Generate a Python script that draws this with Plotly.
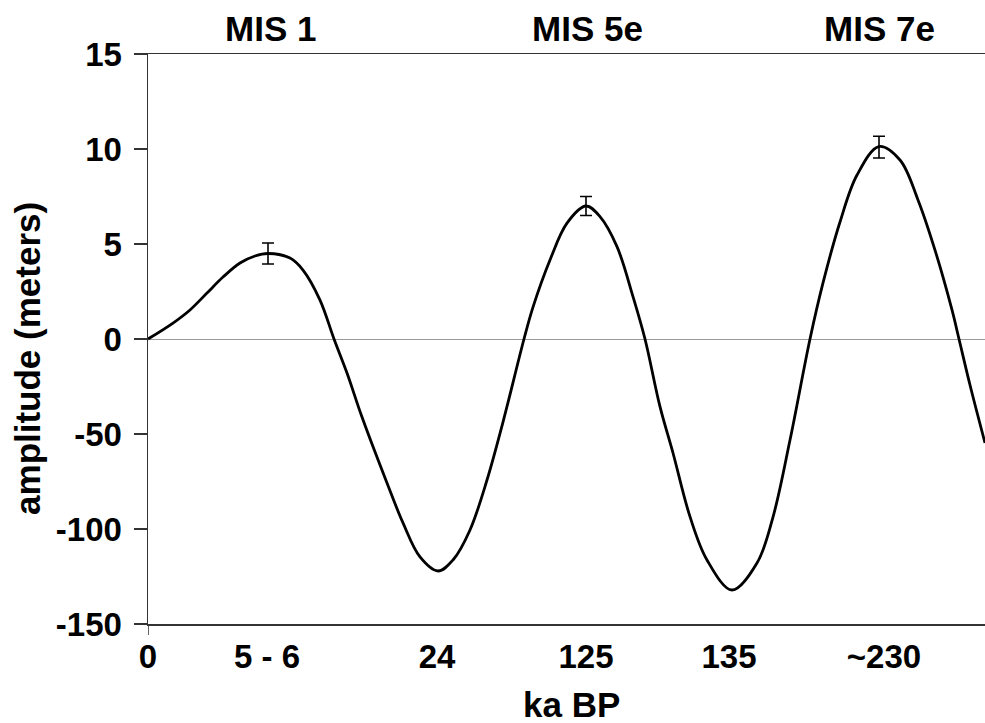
import plotly.graph_objects as go

# ---- data ----
# x positions along the (ordinal) time axis, in axis units
tick_pos = [0, 119, 289, 438, 581, 736]
tick_text = ["0", "5 - 6", "24", "125", "135", "~230"]

# sea-level amplitude curve (meters)
curve_x = [0, 25, 42, 59, 75, 92, 107, 120, 142, 155, 172, 186, 199, 214,
           239, 255, 272, 290, 305, 322, 339, 355, 376, 385, 402, 419, 438,
           452, 469, 485, 497, 512, 525, 542, 559, 584, 609, 625, 642, 662,
           675, 692, 709, 731, 752, 770, 787, 804, 811, 822, 837]
curve_y = [0, 0.84, 1.53, 2.42, 3.26, 4.0, 4.37, 4.5, 4.26, 3.63, 2.05, 0,
           -17.9, -41.1, -75.8, -96.8, -114.7, -122.1, -116.3, -100.5, -74.2,
           -43.7, 0, 1.68, 4.16, 6.1, 7.0, 6.44, 4.86, 2.23, 0, -35.6, -60,
           -93.5, -116.3, -132.1, -117.9, -93.7, -53.2, 0, 2.95, 6.16, 8.63,
           10.13, 9.42, 7.32, 4.68, 1.53, 0, -24.2, -54.7]

# highstand peaks with error bars
peak_x = [120, 438, 731]
peak_y = [4.5, 7.0, 10.1]
peak_err = [0.55, 0.5, 0.57]

mis_labels = ["MIS 1", "MIS 5e", "MIS 7e"]
mis_x = [122, 439, 731]

y_tick_vals = [15, 10, 5, 0, -50, -100, -150]


# broken y scale: 5 m per step above zero, 50 m per step below
def tr(v):
    return v / 5.0 if v >= 0 else v / 50.0


FONT = "Liberation Sans, Arial, sans-serif"

fig = go.Figure()
fig.add_trace(go.Scatter(
    x=curve_x, y=[tr(v) for v in curve_y], mode="lines",
    line=dict(color="black", width=2.8, shape="spline", smoothing=1.0),
    showlegend=False, hoverinfo="skip"))
fig.add_trace(go.Scatter(
    x=peak_x, y=[tr(v) for v in peak_y], mode="markers",
    marker=dict(size=1, color="rgba(0,0,0,0)"),
    error_y=dict(type="data", array=[e / 5.0 for e in peak_err], symmetric=True,
                 color="black", thickness=1.6, width=6),
    showlegend=False, hoverinfo="skip"))

fig.update_layout(
    width=985, height=723,
    margin=dict(l=148, r=0, t=54, b=99),
    paper_bgcolor="white", plot_bgcolor="white",
    font=dict(family=FONT, color="black", size=32, weight="bold"),
    xaxis=dict(range=[0, 837], tickvals=tick_pos, ticktext=tick_text,
               ticks="", showline=True, linecolor="#333", linewidth=1.5,
               mirror=True, showgrid=False, zeroline=False,
               tickfont=dict(family=FONT, size=33, weight="bold"),
               ticklabelstandoff=3),
    yaxis=dict(range=[-3, 3], tickvals=[tr(v) for v in y_tick_vals],
               ticktext=[str(v) for v in y_tick_vals],
               ticks="outside", ticklen=13, tickwidth=1.5, tickcolor="#333",
               showline=True, linecolor="#333", linewidth=1.5,
               showgrid=False, zeroline=True, zerolinecolor="#9a9a9a",
               zerolinewidth=1,
               tickfont=dict(family=FONT, size=33, weight="bold"),
               ticklabelstandoff=5),
)

# small tick below the origin
fig.add_shape(type="line", xref="x", yref="paper", x0=0, x1=0, y0=0, y1=-11 / 570,
              line=dict(color="#333", width=1.5))

for lab, xx in zip(mis_labels, mis_x):
    fig.add_annotation(text=lab, x=xx, xref="x", y=1.044, yref="paper",
                       yanchor="middle", showarrow=False,
                       font=dict(family=FONT, size=35, weight="bold"))

fig.add_annotation(text="ka BP", x=423, xref="x", y=-0.142, yref="paper",
                   yanchor="middle", showarrow=False,
                   font=dict(family=FONT, size=35, weight="bold"))
fig.add_annotation(text="amplitude (meters)", x=-0.1434, xref="paper",
                   y=0.4667, yref="paper", textangle=-90, showarrow=False,
                   xanchor="center", yanchor="middle",
                   font=dict(family=FONT, size=35, weight="bold"))

fig.write_html("out.html",
               config={"displayModeBar": False, "staticPlot": True},
               post_script="document.body.style.margin='0';"
                           "document.body.style.overflow='hidden';")
